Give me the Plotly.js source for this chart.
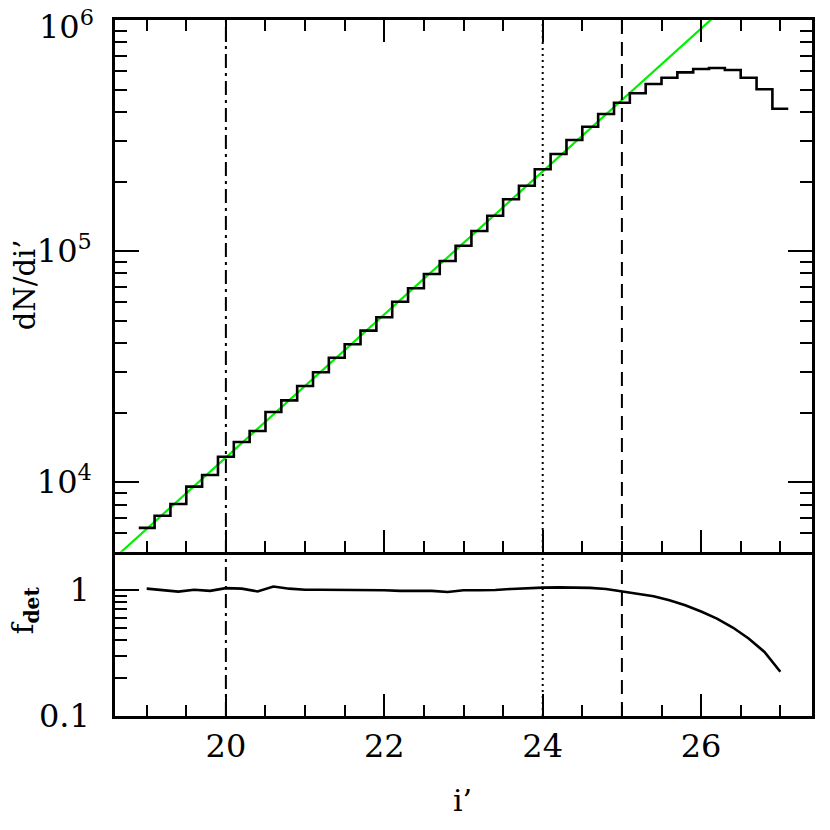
<!DOCTYPE html>
<html lang="en">
<head>
    <meta charset="UTF-8">
    <title>dN/di' and detection fraction</title>
    <script src="https://cdn.plot.ly/plotly-3.0.1.min.js" charset="utf-8"></script>
    <style>
        body { margin: 0; background: #fff; }
        #chart { width: 830px; height: 830px; }
    </style>
</head>
<body>
<div id="chart"></div>
<script>
// bin centres in i' (bin width 0.2)
const binCenters = [19.0, 19.2, 19.4, 19.6, 19.8, 20.0, 20.2, 20.4, 20.6, 20.8,
    21.0, 21.2, 21.4, 21.6, 21.8, 22.0, 22.2, 22.4, 22.6, 22.8,
    23.0, 23.2, 23.4, 23.6, 23.8, 24.0, 24.2, 24.4, 24.6, 24.8,
    25.0, 25.2, 25.4, 25.6, 25.8, 26.0, 26.2, 26.4, 26.6, 26.8, 27.0];
const binWidth = 0.2;

// number counts dN/di'
const counts = [6340, 7160, 8050, 9570, 10740, 12890, 14930, 16660, 20120, 22600,
    26080, 29900, 34570, 39520, 45250, 51730, 60400, 69040, 79620, 90630,
    105500, 122200, 142300, 167500, 191800, 225900, 263000, 302600, 345400, 392000,
    438700, 481700, 528500, 562800, 593700, 613600, 619700, 607600, 562800, 501300, 413300];

// detection fraction
const fdet = [1.02, 0.99, 0.967, 1.0, 0.98, 1.03, 1.02, 0.97, 1.06, 1.02,
    1.0, 1.0, 1.0, 1.0, 1.0, 0.99, 0.98, 0.98, 0.98, 0.96,
    0.99, 0.99, 0.995, 1.015, 1.03, 1.04, 1.045, 1.045, 1.035, 1.015,
    0.973, 0.933, 0.888, 0.826, 0.754, 0.672, 0.591, 0.502, 0.411, 0.322, 0.224];

// power-law fit (straight line in log space)
const fitX = [18.6, 26.2];
const fitY = [4720, 1059000];

// reference magnitudes
const cutMags = [20, 24, 25];
const cutDash = ['14px,5px,3px,5px', '2px,4px', '14px,8px'];

// the top decade label sits on the frame corner, plotly drops it, so it goes in as an annotation
const topTickVals = [1e4, 1e5];
const topTickText = ['10<sup>4</sup>', '10<sup>5</sup>'];
const topEdgeTick = 1e6;
const topEdgeText = '10<sup>6</sup>';
const botTickVals = [0.1, 1];
const botTickText = ['0.1', '1'];
const xTickVals = [20, 22, 24, 26];

// step outline: left edges plus the final right edge
const stepX = binCenters.map(c => c - binWidth / 2).concat([binCenters[binCenters.length - 1] + binWidth / 2]);
const stepY = counts.concat([counts[counts.length - 1]]);

const font = 'DejaVu Serif, serif';

const data = [
    {
        x: fitX, y: fitY, xaxis: 'x2', yaxis: 'y2',
        mode: 'lines', line: { color: '#00f000', width: 2.2 },
        hoverinfo: 'skip'
    },
    {
        x: stepX, y: stepY, xaxis: 'x2', yaxis: 'y2',
        mode: 'lines', line: { color: 'black', width: 2.6, shape: 'hv' }
    },
    {
        x: binCenters, y: fdet, xaxis: 'x', yaxis: 'y',
        mode: 'lines', line: { color: 'black', width: 2.6 }
    }
];

const shapes = cutMags.map((m, i) => ({
    type: 'line', xref: 'x', yref: 'paper',
    x0: m, x1: m, y0: 0, y1: 1,
    line: { color: 'black', width: 2, dash: cutDash[i] }
}));

const xCommon = {
    range: [18.6, 27.4],
    tickvals: xTickVals,
    ticks: 'inside', ticklen: 22, tickwidth: 2, tickcolor: 'black',
    minor: { dtick: 0.5, tick0: 0, ticks: 'inside', ticklen: 11, tickwidth: 2, tickcolor: 'black' },
    showline: true, linewidth: 2.8, linecolor: 'black',
    showgrid: false, zeroline: false,
    tickfont: { family: font, size: 32, color: 'black' }
};

const layout = {
    width: 830, height: 830,
    margin: { l: 115, r: 18, t: 20, b: 114 },
    paper_bgcolor: 'white', plot_bgcolor: 'white',
    showlegend: false,
    xaxis: Object.assign({}, xCommon, {
        anchor: 'y', domain: [0, 1], mirror: false,
        ticklabelstandoff: 0
    }),
    xaxis2: Object.assign({}, xCommon, {
        anchor: 'y2', domain: [0, 1], matches: 'x', mirror: 'allticks',
        showticklabels: false
    }),
    yaxis: {
        type: 'log', domain: [0, 0.236], anchor: 'x',
        range: [-1, Math.log10(2)],
        tickvals: botTickVals, ticktext: botTickText,
        ticks: 'inside', ticklen: 24, tickwidth: 2, tickcolor: 'black',
        minor: { dtick: 'D1', ticks: 'inside', ticklen: 12, tickwidth: 2, tickcolor: 'black' },
        showline: true, linewidth: 2.8, linecolor: 'black', mirror: true,
        showgrid: false, zeroline: false,
        ticklabelstandoff: 16,
        tickfont: { family: font, size: 32, color: 'black' }
    },
    yaxis2: {
        type: 'log', domain: [0.236, 1], anchor: 'x2',
        range: [Math.log10(5000), 6],
        tickvals: topTickVals, ticktext: topTickText,
        ticks: 'inside', ticklen: 24, tickwidth: 2, tickcolor: 'black',
        minor: { dtick: 'D1', ticks: 'inside', ticklen: 12, tickwidth: 2, tickcolor: 'black' },
        showline: true, linewidth: 2.8, linecolor: 'black', mirror: 'allticks',
        showgrid: false, zeroline: false,
        ticklabelstandoff: 14,
        tickfont: { family: font, size: 32, color: 'black' }
    },
    shapes: shapes,
    annotations: [
        {
            text: topEdgeText, xref: 'paper', yref: 'y2', x: -0.027, y: Math.log10(topEdgeTick),
            showarrow: false, xanchor: 'right', yanchor: 'top', yshift: 18,
            font: { family: font, size: 32, color: 'black' }
        },
        {
            text: 'dN/di’', xref: 'paper', yref: 'paper', x: -0.129, y: 0.619,
            textangle: -90, showarrow: false, xanchor: 'center', yanchor: 'middle',
            font: { family: font, size: 29, color: 'black' }
        },
        {
            text: 'f<sub><b>det</b></sub>', xref: 'paper', yref: 'paper', x: -0.129, y: 0.152,
            textangle: -90, showarrow: false, xanchor: 'center', yanchor: 'middle',
            font: { family: font, size: 29, color: 'black' }
        },
        {
            text: 'i’', xref: 'paper', yref: 'paper', x: 0.499, y: -0.122,
            showarrow: false, xanchor: 'center', yanchor: 'middle',
            font: { family: font, size: 30, color: 'black' }
        }
    ]
};

Plotly.newPlot('chart', data, layout, { staticPlot: true });
</script>
</body>
</html>
